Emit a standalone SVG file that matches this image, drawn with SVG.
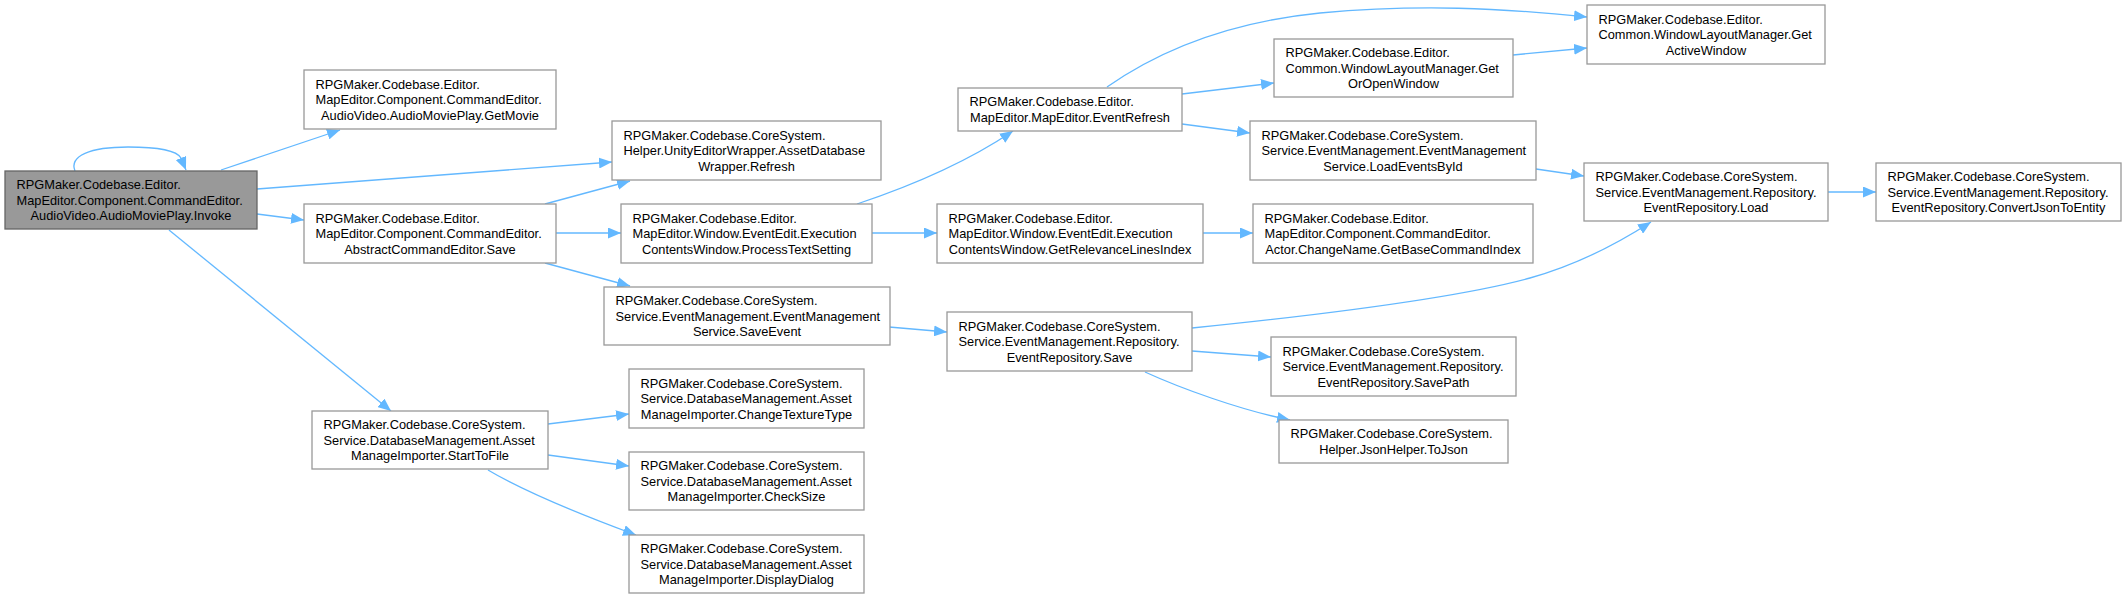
<svg xmlns="http://www.w3.org/2000/svg" width="2126" height="599" viewBox="0 0 2126 599">
<style>
.n rect{fill:#ffffff;stroke:#999999;stroke-width:1.3}
.n.cur rect{fill:#999999;stroke:#666666}
.n text{font-family:"Liberation Sans",Arial,sans-serif;font-size:12.8px;fill:#000000}
.n text.c{text-anchor:middle}
.e path{fill:none;stroke:#63b8ff;stroke-width:1.3;marker-end:url(#arr)}
</style>
<defs>
<marker id="arr" viewBox="0 0 13 11" refX="13" refY="5.5" markerWidth="13" markerHeight="11" markerUnits="userSpaceOnUse" orient="auto">
<path d="M0,0 L13,5.5 L0,11 z" fill="#63b8ff"/>
</marker>
</defs>
<rect width="2126" height="599" fill="#ffffff"/>
<g id="connectors" class="e">
<path d="M75,171 C69,156 90,147 128,147 C158,147 177,151 181,158 L186,170"/>
<path d="M221,170 L340,130"/>
<path d="M257,189 L612,162"/>
<path d="M257,214 L304,220"/>
<path d="M169,230 L391,411"/>
<path d="M545,204 L630,181"/>
<path d="M556,233 L621,233"/>
<path d="M545,263 L630,286"/>
<path d="M857,204 C920,183 970,160 1013,131"/>
<path d="M872,233 L937,233"/>
<path d="M1107,87 C1160,50 1230,22 1320,13 C1420,4 1500,8 1587,17"/>
<path d="M1182,94 L1274,83"/>
<path d="M1182,124 L1250,133"/>
<path d="M1513,55 L1587,48"/>
<path d="M1536,169 L1584,176"/>
<path d="M1203,233 L1253,233"/>
<path d="M889,327 L947,332"/>
<path d="M1192,328 C1300,317 1450,300 1530,278 C1580,264 1620,242 1651,222"/>
<path d="M1192,351 L1271,357"/>
<path d="M1145,372 C1180,388 1240,410 1290,420"/>
<path d="M1828,192 L1876,192"/>
<path d="M548,424 L629,414"/>
<path d="M548,455 L629,466"/>
<path d="M488,470 C530,495 590,518 636,535"/>
</g>
<g id="n_invoke" class="n cur"><rect x="5" y="171" width="252" height="58"/>
<text x="16.5" y="189">RPGMaker.Codebase.Editor.</text><text x="16.5" y="204.7">MapEditor.Component.CommandEditor.</text><text class="c" x="131" y="220.4">AudioVideo.AudioMoviePlay.Invoke</text></g>
<g id="n_getmovie" class="n"><rect x="304" y="70" width="252" height="59"/>
<text x="315.5" y="88.5">RPGMaker.Codebase.Editor.</text><text x="315.5" y="104.2">MapEditor.Component.CommandEditor.</text><text class="c" x="430" y="119.9">AudioVideo.AudioMoviePlay.GetMovie</text></g>
<g id="n_refresh" class="n"><rect x="612" y="121" width="269" height="59"/>
<text x="623.5" y="139.5">RPGMaker.Codebase.CoreSystem.</text><text x="623.5" y="155.2">Helper.UnityEditorWrapper.AssetDatabase</text><text class="c" x="746.5" y="170.9">Wrapper.Refresh</text></g>
<g id="n_save" class="n"><rect x="304" y="204" width="252" height="59"/>
<text x="315.5" y="222.5">RPGMaker.Codebase.Editor.</text><text x="315.5" y="238.2">MapEditor.Component.CommandEditor.</text><text class="c" x="430" y="253.9">AbstractCommandEditor.Save</text></g>
<g id="n_starttofile" class="n"><rect x="312" y="411" width="236" height="58"/>
<text x="323.5" y="429">RPGMaker.Codebase.CoreSystem.</text><text x="323.5" y="444.7">Service.DatabaseManagement.Asset</text><text class="c" x="430" y="460.4">ManageImporter.StartToFile</text></g>
<g id="n_changetexturetype" class="n"><rect x="629" y="369" width="235" height="59"/>
<text x="640.5" y="387.5">RPGMaker.Codebase.CoreSystem.</text><text x="640.5" y="403.2">Service.DatabaseManagement.Asset</text><text class="c" x="746.5" y="418.9">ManageImporter.ChangeTextureType</text></g>
<g id="n_checksize" class="n"><rect x="629" y="452" width="235" height="58"/>
<text x="640.5" y="470">RPGMaker.Codebase.CoreSystem.</text><text x="640.5" y="485.7">Service.DatabaseManagement.Asset</text><text class="c" x="746.5" y="501.4">ManageImporter.CheckSize</text></g>
<g id="n_displaydialog" class="n"><rect x="629" y="535" width="235" height="58"/>
<text x="640.5" y="553">RPGMaker.Codebase.CoreSystem.</text><text x="640.5" y="568.7">Service.DatabaseManagement.Asset</text><text class="c" x="746.5" y="584.4">ManageImporter.DisplayDialog</text></g>
<g id="n_processtextsetting" class="n"><rect x="621" y="204" width="251" height="59"/>
<text x="632.5" y="222.5">RPGMaker.Codebase.Editor.</text><text x="632.5" y="238.2">MapEditor.Window.EventEdit.Execution</text><text class="c" x="746.5" y="253.9">ContentsWindow.ProcessTextSetting</text></g>
<g id="n_saveevent" class="n"><rect x="604" y="287" width="286" height="58"/>
<text x="615.5" y="305">RPGMaker.Codebase.CoreSystem.</text><text x="615.5" y="320.7">Service.EventManagement.EventManagement</text><text class="c" x="747" y="336.4">Service.SaveEvent</text></g>
<g id="n_eventrefresh" class="n"><rect x="958" y="88" width="224" height="43"/>
<text x="969.5" y="106.3">RPGMaker.Codebase.Editor.</text><text class="c" x="1070" y="122">MapEditor.MapEditor.EventRefresh</text></g>
<g id="n_getoropenwindow" class="n"><rect x="1274" y="39" width="239" height="58"/>
<text x="1285.5" y="57">RPGMaker.Codebase.Editor.</text><text x="1285.5" y="72.7">Common.WindowLayoutManager.Get</text><text class="c" x="1393.5" y="88.4">OrOpenWindow</text></g>
<g id="n_loadeventsbyid" class="n"><rect x="1250" y="121" width="286" height="59"/>
<text x="1261.5" y="139.5">RPGMaker.Codebase.CoreSystem.</text><text x="1261.5" y="155.2">Service.EventManagement.EventManagement</text><text class="c" x="1393" y="170.9">Service.LoadEventsById</text></g>
<g id="n_getrelevancelinesindex" class="n"><rect x="937" y="204" width="266" height="59"/>
<text x="948.5" y="222.5">RPGMaker.Codebase.Editor.</text><text x="948.5" y="238.2">MapEditor.Window.EventEdit.Execution</text><text class="c" x="1070" y="253.9">ContentsWindow.GetRelevanceLinesIndex</text></g>
<g id="n_getbasecommandindex" class="n"><rect x="1253" y="204" width="280" height="59"/>
<text x="1264.5" y="222.5">RPGMaker.Codebase.Editor.</text><text x="1264.5" y="238.2">MapEditor.Component.CommandEditor.</text><text class="c" x="1393" y="253.9">Actor.ChangeName.GetBaseCommandIndex</text></g>
<g id="n_eventrepository_save" class="n"><rect x="947" y="312" width="245" height="59"/>
<text x="958.5" y="330.5">RPGMaker.Codebase.CoreSystem.</text><text x="958.5" y="346.2">Service.EventManagement.Repository.</text><text class="c" x="1069.5" y="361.9">EventRepository.Save</text></g>
<g id="n_savepath" class="n"><rect x="1271" y="337" width="245" height="59"/>
<text x="1282.5" y="355.5">RPGMaker.Codebase.CoreSystem.</text><text x="1282.5" y="371.2">Service.EventManagement.Repository.</text><text class="c" x="1393.5" y="386.9">EventRepository.SavePath</text></g>
<g id="n_tojson" class="n"><rect x="1279" y="420" width="229" height="43"/>
<text x="1290.5" y="438.3">RPGMaker.Codebase.CoreSystem.</text><text class="c" x="1393.5" y="454">Helper.JsonHelper.ToJson</text></g>
<g id="n_getactivewindow" class="n"><rect x="1587" y="5" width="238" height="59"/>
<text x="1598.5" y="23.5">RPGMaker.Codebase.Editor.</text><text x="1598.5" y="39.2">Common.WindowLayoutManager.Get</text><text class="c" x="1706" y="54.9">ActiveWindow</text></g>
<g id="n_load" class="n"><rect x="1584" y="163" width="244" height="58"/>
<text x="1595.5" y="181">RPGMaker.Codebase.CoreSystem.</text><text x="1595.5" y="196.7">Service.EventManagement.Repository.</text><text class="c" x="1706" y="212.4">EventRepository.Load</text></g>
<g id="n_convertjsontoentity" class="n"><rect x="1876" y="163" width="245" height="58"/>
<text x="1887.5" y="181">RPGMaker.Codebase.CoreSystem.</text><text x="1887.5" y="196.7">Service.EventManagement.Repository.</text><text class="c" x="1998.5" y="212.4">EventRepository.ConvertJsonToEntity</text></g>
</svg>
